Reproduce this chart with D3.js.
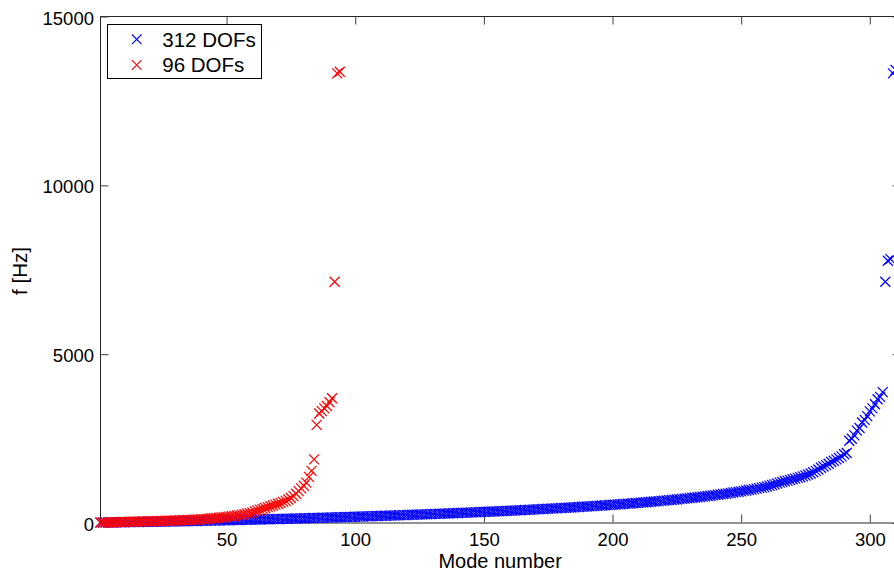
<!DOCTYPE html>
<html>
<head>
<meta charset="utf-8">
<script src="https://cdn.jsdelivr.net/npm/d3@7/dist/d3.min.js"></script>
<style>
  html, body { margin: 0; padding: 0; background: #fff; }
  svg { display: block; font-family: "Liberation Sans", Arial, Helvetica, sans-serif; }
</style>
</head>
<body>
<svg id="chart" width="894" height="572"></svg>
<script>
// Natural frequencies [Hz] of the two discretisations, indexed by mode number.
const seriesNames = ["312 DOFs", "96 DOFs"];
const seriesColors = ["#0000ff", "#ff0000"];

const freq312 = [
  0, 0, 0, 0, 0, 0, 3, 5, 7, 8,
  10, 11, 12, 14, 15, 16, 17, 18, 19, 20,
  21, 22, 24, 25, 26, 27, 29, 30, 31, 33,
  34, 36, 37, 39, 41, 42, 44, 46, 47, 49,
  51, 52, 54, 56, 58, 59, 61, 63, 64, 66,
  68, 70, 71, 73, 75, 77, 79, 81, 83, 85,
  86, 88, 90, 92, 94, 96, 98, 100, 102, 104,
  106, 108, 110, 112, 114, 117, 119, 121, 123, 125,
  127, 129, 132, 134, 136, 138, 141, 143, 145, 147,
  150, 152, 154, 157, 159, 161, 164, 166, 168, 171,
  173, 176, 178, 181, 183, 186, 188, 191, 193, 196,
  198, 201, 204, 206, 209, 212, 214, 217, 220, 222,
  225, 228, 231, 233, 236, 239, 242, 245, 248, 251,
  254, 256, 259, 262, 265, 268, 272, 275, 278, 281,
  284, 287, 290, 294, 297, 300, 303, 307, 310, 313,
  317, 320, 324, 327, 331, 334, 338, 341, 345, 349,
  352, 356, 360, 364, 367, 371, 375, 379, 383, 387,
  391, 395, 399, 403, 407, 411, 416, 420, 424, 428,
  433, 437, 442, 446, 451, 455, 460, 465, 469, 474,
  479, 484, 489, 494, 499, 504, 509, 514, 519, 525,
  530, 536, 541, 547, 552, 558, 564, 570, 576, 582,
  588, 594, 600, 607, 613, 620, 626, 633, 640, 647,
  654, 661, 668, 676, 683, 691, 699, 706, 714, 722,
  731, 739, 748, 756, 765, 774, 783, 793, 802, 812,
  822, 832, 843, 853, 864, 875, 887, 898, 910, 922,
  935, 948, 961, 975, 989, 1003, 1018, 1033, 1049, 1065,
  1090, 1110, 1130, 1155, 1180, 1200, 1220, 1240, 1260, 1280,
  1300, 1320, 1340, 1365, 1390, 1420, 1450, 1490, 1530, 1570,
  1620, 1660, 1700, 1740, 1790, 1830, 1870, 1910, 1960, 2020,
  2060, 2420, 2480, 2580, 2720, 2800, 2960, 3040, 3150, 3290,
  3380, 3500, 3650, 3720, 3860, 7130, 7750, 7800, 13300, 13400
];

const freq96 = [
  0, 0, 0, 0, 0, 0, 8, 11, 14, 16,
  18, 20, 22, 24, 26, 28, 30, 32, 34, 36,
  38, 40, 42, 44, 46, 49, 51, 54, 56, 59,
  62, 65, 68, 71, 74, 77, 81, 85, 89, 93,
  100, 106, 112, 118, 125, 132, 140, 148, 156, 165,
  175, 185, 196, 208, 220, 233, 247, 262, 278, 295,
  330, 355, 380, 405, 430, 455, 480, 505, 530, 555,
  580, 610, 640, 680, 725, 780, 850, 930, 1010, 1090,
  1180, 1350, 1530, 1870, 2890, 3230, 3300, 3380, 3450, 3560,
  3680, 7130, 13300, 13350
];

const xTicks = [50, 100, 150, 200, 250, 300];
const yTicks = [0, 5000, 10000, 15000];
const xLabel = "Mode number";
const yLabel = "f [Hz]";

const series = [freq312, freq96];

const svg = d3.select("#chart");
const plot = { left: 100, top: 16, bottom: 522.5, right: 900.2 };

const x = d3.scaleLinear().domain([1, 312]).range([plot.left, plot.right]);
const y = d3.scaleLinear().domain([0, 15000]).range([plot.bottom, plot.top]);

const tickFont = "18.5px";
const labelFont = "20.5px";

// Frame of the axes (box on)
svg.append("rect")
  .attr("x", plot.left + 0.5).attr("y", plot.top + 0.5)
  .attr("width", plot.right - plot.left).attr("height", plot.bottom - plot.top)
  .attr("fill", "none").attr("stroke", "#262626").attr("stroke-width", 1);

// Ticks point inward on all four sides
function styleAxis(g) {
  g.select(".domain").remove();
  g.selectAll(".tick line").attr("stroke", "#404040").attr("stroke-width", 1);
  g.selectAll(".tick text").attr("fill", "#000").style("font-size", tickFont);
}

svg.append("g")
  .attr("transform", `translate(0.5,${plot.bottom})`)
  .call(d3.axisBottom(x).tickValues(xTicks).tickFormat(d3.format("d"))
    .tickSizeInner(-8).tickSizeOuter(0).tickPadding(10))
  .call(styleAxis);

svg.append("g")
  .attr("transform", `translate(0.5,${plot.top + 0.5})`)
  .call(d3.axisTop(x).tickValues(xTicks).tickFormat("")
    .tickSizeInner(-8).tickSizeOuter(0))
  .call(styleAxis);

svg.append("g")
  .attr("transform", `translate(${plot.left + 0.5},0.5)`)
  .call(d3.axisLeft(y).tickValues(yTicks).tickFormat(d3.format("d"))
    .tickSizeInner(-8).tickSizeOuter(0).tickPadding(6.5))
  .call(styleAxis)
  .call(g => g.selectAll(".tick text").attr("dy", "0.41em"));

svg.append("g")
  .attr("transform", `translate(${plot.right + 0.5},0.5)`)
  .call(d3.axisRight(y).tickValues(yTicks).tickFormat("")
    .tickSizeInner(-8).tickSizeOuter(0))
  .call(styleAxis);

// Axis titles
svg.append("text")
  .attr("x", (plot.left + plot.right) / 2).attr("y", 568)
  .attr("text-anchor", "middle").style("font-size", "20px")
  .text(xLabel);

svg.append("text")
  .attr("transform", `translate(27,271) rotate(-90)`)
  .attr("text-anchor", "middle").style("font-size", labelFont)
  .text(yLabel);

// 'x' marker outline centred on the origin
function crossPath(r) {
  return `M${-r},${-r}L${r},${r}M${-r},${r}L${r},${-r}`;
}

series.forEach((vals, si) => {
  svg.append("g")
    .selectAll("path")
    .data(vals.map((f, i) => ({ mode: i + 1, f })))
    .join("path")
    .attr("transform", d => `translate(${x(d.mode) + 0.5},${y(d.f)})`)
    .attr("d", crossPath(5))
    .attr("fill", "none")
    .attr("stroke", seriesColors[si])
    .attr("stroke-width", 1.25);
});

// Legend
const legend = svg.append("g");
legend.append("rect")
  .attr("x", 107.5).attr("y", 24.5).attr("width", 154).attr("height", 54)
  .attr("fill", "#fff").attr("stroke", "#000").attr("stroke-width", 1);

seriesNames.forEach((name, i) => {
  const cy = 39.3 + i * 25.7;
  legend.append("path")
    .attr("transform", `translate(136.7,${cy})`)
    .attr("d", crossPath(4.8))
    .attr("fill", "none").attr("stroke", seriesColors[i]).attr("stroke-width", 1.1);
  legend.append("text")
    .attr("x", 162.3).attr("y", cy + 7.2)
    .style("font-size", labelFont)
    .text(name);
});
</script>
</body>
</html>
